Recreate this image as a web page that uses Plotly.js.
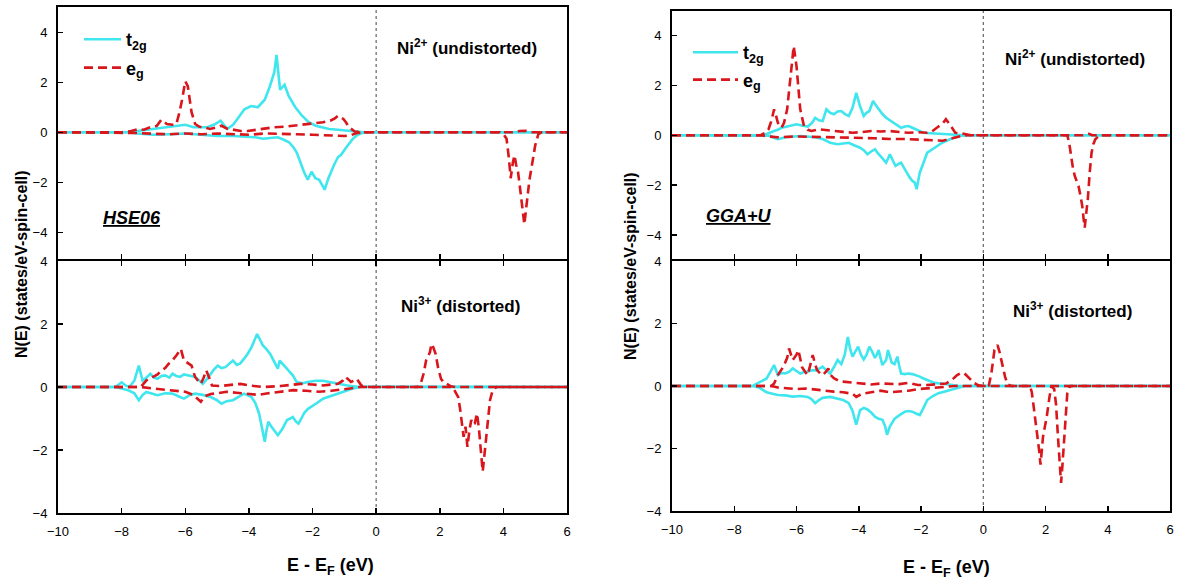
<!DOCTYPE html>
<html>
<head>
<meta charset="utf-8">
<script src="https://cdn.plot.ly/plotly-3.0.1.min.js"></script>
<style>html,body{margin:0;padding:0;background:#fff}#chart{width:1179px;height:583px}</style>
</head>
<body>
<div id="chart"></div>
<script>
// ---------- Data (energy E - E_F in eV, N(E) in states/eV-spin-cell) ----------
// HSE06, Ni2+ (undistorted)
const hse2_t2gUp_E = [-10,-7.8,-7.5,-7.2,-6.9,-6.6,-6.28,-6.0,-5.74,-5.32,-5.1,-4.89,-4.68,-4.5,-4.36,-4.14,-3.93,-3.72,-3.5,-3.34,-3.2,-3.13,-3.02,-2.88,-2.75,-2.54,-2.33,-2.12,-1.9,-1.67,-1.48,-1.2,-0.9,-0.6,-0.4,6];
const hse2_t2gUp_N = [0,0,0.05,0.1,0.15,0.2,0.26,0.3,0.2,0.2,0.3,0.46,0.13,0.3,0.53,0.92,1.05,1.0,1.3,1.84,2.4,3.09,1.7,1.9,1.45,1.0,0.66,0.4,0.26,0.2,0.13,0.1,0.06,0.02,0,0];
const hse2_t2gDn_E = [-10,-7.8,-7.5,-7.0,-6.5,-6.0,-5.5,-5.0,-4.5,-4.0,-3.8,-3.56,-3.3,-3.09,-2.9,-2.74,-2.6,-2.5,-2.38,-2.27,-2.15,-2.03,-1.91,-1.79,-1.7,-1.62,-1.5,-1.4,-1.32,-1.2,-1.1,-0.97,-0.85,-0.73,-0.6,-0.5,-0.3,6];
const hse2_t2gDn_N = [0,0,-0.05,-0.1,-0.08,-0.05,-0.1,-0.15,-0.15,-0.18,-0.2,-0.26,-0.22,-0.2,-0.3,-0.4,-0.6,-0.8,-1.2,-1.58,-1.9,-1.58,-1.84,-1.9,-2.1,-2.3,-1.84,-1.5,-1.3,-1.0,-0.9,-0.66,-0.45,-0.26,-0.12,-0.05,0,0];
const hse2_egUp_E = [-10,-8,-7.7,-7.46,-7.3,-7.1,-6.9,-6.75,-6.58,-6.4,-6.28,-6.18,-6.1,-6.0,-5.92,-5.85,-5.8,-5.69,-5.55,-5.45,-5.22,-5.0,-4.86,-4.7,-4.5,-4.25,-4.04,-3.8,-3.56,-3.2,-2.9,-2.62,-2.4,-2.15,-1.9,-1.67,-1.44,-1.3,-1.2,-1.1,-1.03,-0.95,-0.85,-0.67,-0.5,4.4,4.5,4.7,4.9,6];
const hse2_egUp_N = [0,0,0.05,0.13,0.1,0.2,0.25,0.5,0.33,0.3,0.33,0.8,1.3,2.04,1.84,1.3,0.79,0.33,0.22,0.2,0.13,0.2,0.26,0.15,0.1,0.05,0.05,0.1,0.13,0.2,0.22,0.26,0.3,0.33,0.38,0.4,0.46,0.55,0.66,0.6,0.53,0.4,0.2,0.03,0,0,0.05,0.06,0,0];
const hse2_egDn_E = [-10,-8,-7.5,-7.0,-6.5,-6.0,-5.5,-5.0,-4.5,-4.0,-3.5,-3.0,-2.5,-2.0,-1.5,-1.0,-0.8,-0.6,-0.4,3.9,4.0,4.1,4.17,4.23,4.3,4.35,4.4,4.46,4.52,4.58,4.66,4.72,4.75,4.82,4.88,4.95,5.0,5.1,5.2,6];
const hse2_egDn_N = [0,0,-0.03,-0.06,-0.08,-0.05,-0.08,-0.05,-0.08,-0.1,-0.05,-0.05,-0.08,-0.1,-0.12,-0.15,-0.12,-0.03,0,0,-0.07,-0.26,-1.0,-1.84,-1.2,-0.92,-1.3,-1.58,-2.2,-2.9,-3.68,-3.0,-2.63,-1.9,-1.45,-1.0,-0.53,-0.07,0,0];

// HSE06, Ni3+ (distorted)
const hse3_t2gUp_E = [-10,-8.2,-8.0,-7.88,-7.76,-7.6,-7.46,-7.34,-7.22,-7.1,-6.98,-6.87,-6.75,-6.63,-6.5,-6.4,-6.28,-6.16,-6.04,-5.92,-5.8,-5.69,-5.55,-5.45,-5.32,-5.2,-5.1,-4.98,-4.86,-4.74,-4.62,-4.5,-4.38,-4.27,-4.15,-4.04,-3.92,-3.83,-3.74,-3.65,-3.56,-3.45,-3.33,-3.2,-3.09,-3.03,-2.95,-2.86,-2.74,-2.62,-2.5,-2.3,-2.15,-1.9,-1.67,-1.44,-1.2,-0.9,-0.6,6];
const hse3_t2gUp_N = [0,0,0.15,0.05,0.0,0.2,0.68,0.2,0.3,0.42,0.3,0.26,0.35,0.37,0.3,0.42,0.35,0.32,0.4,0.37,0.35,0.32,0.2,0.1,0.25,0.42,0.55,0.68,0.6,0.63,0.75,0.84,0.7,0.75,0.9,1.05,1.26,1.45,1.68,1.5,1.32,1.2,1.05,0.8,0.58,0.84,0.75,0.63,0.5,0.37,0.16,0.12,0.16,0.2,0.2,0.15,0.1,0.05,0.01,0];
const hse3_t2gDn_E = [-10,-8.2,-8.0,-7.8,-7.6,-7.46,-7.34,-7.22,-7.0,-6.87,-6.63,-6.4,-6.2,-6.04,-5.85,-5.69,-5.45,-5.2,-5.0,-4.86,-4.7,-4.5,-4.3,-4.15,-3.92,-3.8,-3.68,-3.58,-3.5,-3.45,-3.39,-3.3,-3.2,-3.09,-2.97,-2.88,-2.8,-2.7,-2.62,-2.52,-2.44,-2.35,-2.27,-2.15,-2.03,-1.85,-1.67,-1.4,-1.2,-0.95,-0.73,-0.5,6];
const hse3_t2gDn_N = [0,0,-0.05,-0.1,-0.2,-0.42,-0.25,-0.16,-0.22,-0.26,-0.2,-0.21,-0.3,-0.37,-0.25,-0.21,-0.25,-0.32,-0.42,-0.53,-0.45,-0.42,-0.3,-0.21,-0.32,-0.5,-0.84,-1.3,-1.74,-1.4,-1.1,-1.25,-1.37,-1.53,-1.37,-1.2,-1.05,-1.0,-0.95,-1.1,-1.16,-1.0,-0.84,-0.7,-0.63,-0.5,-0.37,-0.28,-0.21,-0.12,-0.05,0,0];
const hse3_egUp_E = [-10,-7.4,-7.22,-7.1,-6.99,-6.87,-6.75,-6.63,-6.52,-6.4,-6.28,-6.2,-6.14,-6.04,-5.92,-5.8,-5.75,-5.69,-5.6,-5.51,-5.42,-5.34,-5.25,-5.16,-4.9,-4.74,-4.5,-4.27,-4.0,-3.56,-3.0,-2.38,-2.0,-1.67,-1.4,-1.2,-1.05,-0.97,-0.88,-0.79,-0.7,-0.61,-0.5,-0.43,-0.2,1.3,1.4,1.5,1.57,1.63,1.69,1.74,1.8,1.87,1.95,2.04,2.12,2.22,2.35,2.5,6];
const hse3_egUp_N = [0,0,0.21,0.28,0.32,0.4,0.53,0.6,0.74,0.85,1.0,1.1,1.21,0.84,0.75,0.68,0.5,0.32,0.2,0.1,0.3,0.53,0.3,0.05,0.03,0.05,0.08,0.1,0.05,0,0.03,0.1,0.08,0.05,0.08,0.1,0.2,0.32,0.25,0.16,0.2,0.26,0.1,0.02,0,0,0.1,0.45,0.84,1.0,1.1,1.37,1.25,1.05,0.6,0.26,0.15,0.1,0.02,0,0];
const hse3_egDn_E = [-10,-7.4,-7.0,-6.5,-6.0,-5.75,-5.6,-5.51,-5.4,-5.2,-5.0,-4.7,-4.4,-4.0,-3.7,-3.4,-3.0,-2.6,-2.2,-1.8,-1.4,-1.0,-0.7,-0.5,2.4,2.46,2.58,2.64,2.69,2.75,2.81,2.87,2.93,2.99,3.05,3.1,3.17,3.23,3.29,3.35,3.41,3.46,3.52,3.58,3.65,3.7,3.8,6];
const hse3_egDn_N = [0,0,-0.05,-0.1,-0.15,-0.25,-0.4,-0.47,-0.3,-0.22,-0.2,-0.15,-0.18,-0.22,-0.25,-0.2,-0.15,-0.1,-0.12,-0.15,-0.12,-0.08,-0.03,0,0,-0.1,-0.32,-0.7,-1.16,-1.58,-1.26,-1.9,-1.4,-1.05,-1.2,-1.16,-0.84,-1.3,-2.0,-2.68,-2.1,-1.58,-0.9,-0.42,-0.15,-0.05,0,0];

// GGA+U, Ni2+ (undistorted)
const gga2_t2gUp_E = [-10,-7.1,-6.96,-6.84,-6.72,-6.6,-6.48,-6.3,-6.1,-6.0,-5.8,-5.64,-5.5,-5.4,-5.28,-5.16,-5.04,-4.92,-4.8,-4.68,-4.56,-4.44,-4.32,-4.2,-4.08,-3.96,-3.84,-3.75,-3.66,-3.54,-3.45,-3.36,-3.24,-3.12,-3.0,-2.88,-2.76,-2.64,-2.52,-2.4,-2.28,-2.16,-2.04,-1.92,-1.56,-1.08,-0.8,-0.6,6];
const gga2_t2gUp_N = [0,0,0.05,0.12,0.17,0.22,0.3,0.35,0.4,0.44,0.38,0.35,0.5,0.7,0.6,0.57,1.04,0.9,0.84,0.95,0.97,0.85,0.77,1.1,1.7,1.17,0.77,0.9,0.97,1.37,1.2,1.04,0.85,0.7,0.6,0.5,0.4,0.3,0.35,0.37,0.3,0.24,0.15,0.1,0.07,0.04,0.02,0,0];
const gga2_t2gDn_E = [-10,-7.1,-6.84,-6.72,-6.6,-6.48,-6.36,-5.88,-5.4,-5.16,-4.92,-4.68,-4.5,-4.32,-4.15,-3.96,-3.84,-3.72,-3.6,-3.48,-3.4,-3.3,-3.2,-3.12,-3.0,-2.9,-2.82,-2.72,-2.64,-2.55,-2.46,-2.36,-2.28,-2.2,-2.14,-2.08,-2.04,-1.92,-1.8,-1.68,-1.56,-1.44,-1.32,-1.14,-0.96,-0.72,-0.5,6];
const gga2_t2gDn_N = [0,0,-0.02,-0.1,-0.16,-0.12,-0.08,-0.03,-0.08,-0.15,-0.3,-0.36,-0.32,-0.3,-0.4,-0.5,-0.6,-0.76,-0.65,-0.56,-0.7,-0.83,-1.0,-1.1,-0.76,-1.0,-1.23,-1.15,-1.1,-1.3,-1.5,-1.7,-1.83,-1.9,-2.16,-1.8,-1.5,-1.1,-0.7,-0.6,-0.5,-0.4,-0.3,-0.2,-0.1,-0.02,0,0];
const gga2_egUp_E = [-10,-7.15,-7.0,-6.9,-6.8,-6.72,-6.66,-6.6,-6.48,-6.4,-6.3,-6.18,-6.09,-6.0,-5.94,-5.88,-5.76,-5.64,-5.52,-5.28,-5.0,-4.8,-4.5,-4.2,-3.9,-3.6,-3.3,-3.0,-2.7,-2.4,-2.1,-1.8,-1.65,-1.56,-1.44,-1.32,-1.2,-1.08,-0.98,-0.9,-0.72,-0.6,-0.4,3.2,3.3,3.4,3.5,6];
const gga2_egUp_N = [0,0,0.1,0.24,0.6,1.04,0.8,0.5,0.3,0.5,1.04,2.37,3.57,2.77,1.9,1.04,0.37,0.22,0.17,0.24,0.2,0.17,0.12,0.1,0.13,0.17,0.15,0.17,0.13,0.1,0.12,0.1,0.15,0.24,0.35,0.44,0.64,0.44,0.25,0.1,0.08,0.04,0,0,0.04,0.06,0,0];
const gga2_egDn_E = [-10,-7.15,-6.9,-6.6,-6.0,-5.5,-5.0,-4.5,-4.0,-3.5,-3.0,-2.5,-2.0,-1.6,-1.3,-1.1,-0.9,-0.7,-0.5,2.7,2.76,2.82,2.88,2.94,3.0,3.06,3.12,3.18,3.22,3.26,3.31,3.36,3.42,3.48,3.54,3.6,3.72,3.8,6];
const gga2_egDn_N = [0,0,-0.05,-0.08,-0.05,-0.06,-0.08,-0.08,-0.1,-0.12,-0.15,-0.15,-0.18,-0.2,-0.22,-0.15,-0.08,-0.03,0,0,-0.3,-0.83,-1.3,-1.63,-1.85,-2.03,-2.4,-2.83,-3.3,-3.7,-3.1,-2.56,-1.5,-0.7,-0.35,-0.16,-0.02,0,0];

// GGA+U, Ni3+ (distorted)
const gga3_t2gUp_E = [-10,-7.4,-7.32,-7.14,-6.96,-6.84,-6.72,-6.6,-6.48,-6.36,-6.24,-6.12,-6.0,-5.88,-5.76,-5.64,-5.52,-5.4,-5.28,-5.16,-5.04,-4.92,-4.8,-4.68,-4.56,-4.45,-4.35,-4.28,-4.2,-4.1,-4.02,-3.93,-3.84,-3.75,-3.66,-3.57,-3.48,-3.42,-3.36,-3.3,-3.24,-3.18,-3.12,-3.06,-3.0,-2.94,-2.85,-2.76,-2.7,-2.64,-2.52,-2.4,-2.28,-2.16,-2.04,-1.92,-1.74,-1.56,-1.3,-1.08,-0.8,-0.5,6];
const gga3_t2gUp_N = [0,0,0.05,0.15,0.24,0.45,0.67,0.35,0.42,0.4,0.45,0.56,0.48,0.4,0.45,0.46,0.5,0.5,0.55,0.62,0.5,0.4,0.6,0.83,0.7,1.0,1.57,1.2,0.94,1.1,1.26,1.0,0.85,1.0,1.26,1.1,0.9,1.0,1.15,0.9,0.67,0.75,0.83,1.15,0.95,0.75,0.7,0.94,0.65,0.4,0.38,0.4,0.38,0.35,0.3,0.24,0.18,0.1,0.07,0.04,0.01,0,0];
const gga3_t2gDn_E = [-10,-7.4,-7.2,-7.08,-6.96,-6.84,-6.6,-6.36,-6.12,-5.88,-5.64,-5.52,-5.4,-5.28,-5.16,-4.92,-4.68,-4.5,-4.32,-4.2,-4.08,-3.96,-3.84,-3.72,-3.6,-3.48,-3.36,-3.24,-3.15,-3.09,-3.0,-2.94,-2.85,-2.76,-2.64,-2.52,-2.4,-2.28,-2.16,-2.04,-1.92,-1.8,-1.62,-1.44,-1.26,-1.08,-0.84,-0.6,6];
const gga3_t2gDn_N = [0,0,-0.05,-0.13,-0.2,-0.23,-0.29,-0.3,-0.34,-0.32,-0.35,-0.42,-0.55,-0.45,-0.38,-0.35,-0.4,-0.45,-0.55,-0.8,-1.24,-0.77,-0.7,-0.75,-0.85,-0.98,-1.05,-1.08,-1.3,-1.56,-1.3,-1.19,-1.05,-0.98,-0.9,-0.82,-0.8,-0.82,-0.88,-0.93,-0.7,-0.45,-0.32,-0.23,-0.18,-0.13,-0.05,0,0];
const gga3_egUp_E = [-10,-6.8,-6.72,-6.6,-6.5,-6.42,-6.3,-6.24,-6.12,-6.0,-5.94,-5.82,-5.72,-5.64,-5.55,-5.48,-5.4,-5.34,-5.24,-5.16,-5.06,-4.98,-4.9,-4.8,-4.62,-4.44,-4.2,-3.96,-3.6,-3.3,-3.0,-2.7,-2.4,-2.1,-1.8,-1.5,-1.2,-1.0,-0.84,-0.7,-0.6,-0.45,-0.3,-0.15,0,0.18,0.26,0.36,0.46,0.52,0.6,0.7,0.78,0.9,6];
const gga3_egUp_N = [0,0,0.08,0.35,0.5,0.62,0.9,1.2,0.83,1.0,1.15,0.6,0.45,0.35,0.7,0.99,0.7,0.51,0.4,0.35,0.45,0.56,0.35,0.25,0.15,0.13,0.1,0.08,0.05,0.08,0.08,0.06,0.1,0.03,0.03,0.05,0.08,0.2,0.35,0.42,0.4,0.25,0.1,0.02,0,0.02,0.4,1.15,1.31,1.1,0.72,0.3,0.05,0,0];
const gga3_egDn_E = [-10,-6.8,-6.6,-6.3,-6.0,-5.7,-5.4,-5.1,-4.8,-4.5,-4.2,-4.08,-3.9,-3.6,-3.3,-3.0,-2.7,-2.4,-2.1,-1.8,-1.5,-1.2,-0.9,1.5,1.56,1.62,1.68,1.74,1.8,1.84,1.88,1.92,1.98,2.04,2.12,2.19,2.28,2.34,2.4,2.45,2.5,2.54,2.58,2.64,2.7,2.76,2.82,6];
const gga3_egDn_N = [0,0,-0.05,-0.08,-0.1,-0.08,-0.12,-0.15,-0.18,-0.2,-0.25,-0.35,-0.25,-0.2,-0.15,-0.2,-0.18,-0.15,-0.1,-0.08,-0.05,-0.03,0,0,-0.2,-0.66,-1.1,-1.62,-2.1,-2.52,-2.0,-1.62,-1.3,-0.98,-0.4,0,-0.1,-0.6,-1.62,-2.4,-3.1,-2.6,-2.04,-1.0,-0.23,-0.05,0,0];

// Tick values and labels
const xTickVals = [-10,-8,-6,-4,-2,0,2,4,6];
const yTickVals = [-4,-2,0,2,4];
const seriesNames = ['t<sub>2g</sub>','e<sub>g</sub>'];

// ---------- Styling ----------
const W = 1179, H = 583;
const px = x => x / W;
const py = y => 1 - y / H;
const CYAN = '#3fe6ee';
const RED = '#d8161b';
const FONT = 'Liberation Sans, Arial, sans-serif';

const panels = [
  {E:[hse2_t2gUp_E,hse2_t2gDn_E,hse2_egUp_E,hse2_egDn_E], N:[hse2_t2gUp_N,hse2_t2gDn_N,hse2_egUp_N,hse2_egDn_N], xa:'x', ya:'y', legend:'legend', showLeg:true},
  {E:[hse3_t2gUp_E,hse3_t2gDn_E,hse3_egUp_E,hse3_egDn_E], N:[hse3_t2gUp_N,hse3_t2gDn_N,hse3_egUp_N,hse3_egDn_N], xa:'x2', ya:'y2', legend:'legend', showLeg:false},
  {E:[gga2_t2gUp_E,gga2_t2gDn_E,gga2_egUp_E,gga2_egDn_E], N:[gga2_t2gUp_N,gga2_t2gDn_N,gga2_egUp_N,gga2_egDn_N], xa:'x3', ya:'y3', legend:'legend2', showLeg:true},
  {E:[gga3_t2gUp_E,gga3_t2gDn_E,gga3_egUp_E,gga3_egDn_E], N:[gga3_t2gUp_N,gga3_t2gDn_N,gga3_egUp_N,gga3_egDn_N], xa:'x4', ya:'y4', legend:'legend2', showLeg:false}
];

const traces = [];
panels.forEach(p => {
  for (let i = 0; i < 4; i++) {
    const isT2g = i < 2;
    traces.push({
      type: 'scatter', mode: 'lines',
      x: p.E[i], y: p.N[i],
      xaxis: p.xa, yaxis: p.ya,
      name: isT2g ? seriesNames[0] : seriesNames[1],
      legend: p.legend,
      legendgroup: isT2g ? 't2g' : 'eg',
      showlegend: p.showLeg && (i === 0 || i === 2),
      line: isT2g ? {color: CYAN, width: 2.6} : {color: RED, width: 2.6, dash: '9px,5px'},
      hoverinfo: 'skip'
    });
  }
});

const axisLine = {showline: true, linecolor: '#000', linewidth: 2, showgrid: false, zeroline: false,
  ticks: 'inside', ticklen: 5, tickwidth: 1.5, tickcolor: '#000',
  tickfont: {family: FONT, size: 13, color: '#000'}};

function xAxis(domain, anchor, bottom) {
  return Object.assign({}, axisLine, {
    domain: domain, anchor: anchor, range: [-10, 6], tickmode: 'array', tickvals: xTickVals,
    showticklabels: bottom, mirror: bottom ? 'ticks' : true, ticklabelstandoff: 5
  });
}
function yAxis(domain, anchor, range) {
  return Object.assign({}, axisLine, {
    domain: domain, anchor: anchor, range: range, tickmode: 'array', tickvals: yTickVals,
    mirror: true, ticklabelstandoff: 6
  });
}

const xLeft = [px(58), px(567)];
const xRight = [px(672), px(1170)];

const legendFont = {family: FONT, size: 18, color: '#000', weight: 'bold'};

const layout = {
  width: W, height: H,
  margin: {l: 0, r: 0, t: 0, b: 0},
  paper_bgcolor: '#fff', plot_bgcolor: '#fff',
  font: {family: FONT, color: '#000'},
  xaxis: xAxis(xLeft, 'y', false),
  xaxis2: xAxis(xLeft, 'y2', true),
  xaxis3: xAxis(xRight, 'y3', false),
  xaxis4: xAxis(xRight, 'y4', true),
  yaxis: yAxis([py(259), py(7)], 'x', [-5.07, 5.01]),
  yaxis2: yAxis([py(513), py(261)], 'x2', [-4, 4]),
  yaxis3: yAxis([py(259), py(11)], 'x3', [-4.96, 4.98]),
  yaxis4: yAxis([py(511), py(261)], 'x4', [-4, 4]),
  legend: {x: px(79), y: py(21), xanchor: 'left', yanchor: 'top', bgcolor: 'rgba(0,0,0,0)',
    font: legendFont, tracegroupgap: 2, itemwidth: 37},
  legend2: {x: px(688), y: py(34), xanchor: 'left', yanchor: 'top', bgcolor: 'rgba(0,0,0,0)',
    font: legendFont, tracegroupgap: 1, itemwidth: 45},
  shapes: ['', '2', '3', '4'].map(s => ({type: 'line', xref: 'x' + s, yref: 'y' + s + ' domain',
    x0: 0, x1: 0, y0: 0, y1: 1, line: {color: '#444', width: 1, dash: 'dot'}, layer: 'below'})),
  annotations: [
    {text: 'Ni<sup>2+</sup> (undistorted)', x: px(467), y: py(47)},
    {text: 'Ni<sup>3+</sup> (distorted)', x: px(460), y: py(305)},
    {text: 'Ni<sup>2+</sup> (undistorted)', x: px(1075), y: py(58)},
    {text: 'Ni<sup>3+</sup> (distorted)', x: px(1072), y: py(310)},
    {text: '<i><u>HSE06</u></i>', x: px(132), y: py(218), size: 18},
    {text: '<i><u>GGA+U</u></i>', x: px(739), y: py(216), size: 18},
    {text: 'N(E) (states/eV-spin-cell)', x: px(21), y: py(264), size: 16, angle: -90},
    {text: 'N(E) (states/eV-spin-cell)', x: px(630), y: py(266), size: 16, angle: -90},
    {text: 'E - E<sub>F</sub> (eV)', x: px(330), y: py(566), size: 18},
    {text: 'E - E<sub>F</sub> (eV)', x: px(946), y: py(568), size: 18}
  ].map(a => ({text: a.text, x: a.x, y: a.y, xref: 'paper', yref: 'paper', xanchor: 'center', yanchor: 'middle',
    showarrow: false, textangle: a.angle || 0,
    font: {family: FONT, size: a.size || 17, color: '#000', weight: 'bold'}}))
};

Plotly.newPlot('chart', traces, layout, {displayModeBar: false, staticPlot: true});
</script>
</body>
</html>
